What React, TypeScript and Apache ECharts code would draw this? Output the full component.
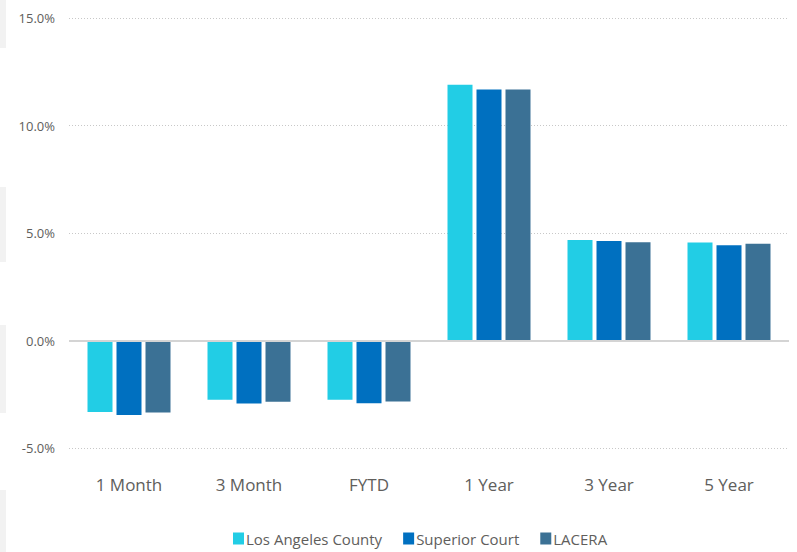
import React, { useEffect, useRef } from "react";
import * as echarts from "echarts";

const categories = ["1 Month", "3 Month", "FYTD", "1 Year", "3 Year", "5 Year"];
const seriesNames = ["Los Angeles County", "Superior Court", "LACERA"];
const losAngelesCounty = [-3.33, -2.76, -2.76, 11.9, 4.68, 4.56];
const superiorCourt = [-3.46, -2.93, -2.92, 11.67, 4.63, 4.43];
const lacera = [-3.35, -2.85, -2.84, 11.67, 4.57, 4.5];
const colors = ["#22CDE5", "#0070C0", "#3B7195"];
const yTicks = { min: -5, max: 15, interval: 5 };

const FONT = "'Open Sans', 'Noto Sans', sans-serif";

export default function App() {
  const ref = useRef<HTMLDivElement>(null);

  useEffect(() => {
    if (!ref.current) return;
    const chart = echarts.init(ref.current, undefined, { renderer: "svg" });
    const data = [losAngelesCounty, superiorCourt, lacera];
    chart.setOption({
      animation: false,
      backgroundColor: "#ffffff",
      textStyle: { fontFamily: FONT },
      grid: { left: 69, right: 8, top: 18, bottom: 104, containLabel: false },
      legend: {
        bottom: 1,
        left: 228,
        itemWidth: 11,
        itemHeight: 12,
        itemGap: 21,
        icon: "rect",
        textStyle: { fontSize: 15, color: "#605E5C", fontFamily: FONT, padding: [0, 0, 0, -3] },
        data: seriesNames,
      },
      xAxis: {
        type: "category",
        data: categories,
        axisLine: { show: false },
        axisTick: { show: false },
        axisLabel: { fontSize: 17, color: "#605E5C", margin: 28, fontFamily: FONT },
      },
      yAxis: {
        type: "value",
        min: yTicks.min,
        max: yTicks.max,
        interval: yTicks.interval,
        axisLine: { show: false },
        axisTick: { show: false },
        axisLabel: {
          fontSize: 13,
          color: "#605E5C",
          margin: 14,
          fontFamily: FONT,
          formatter: (v: number) => v.toFixed(1) + "%",
        },
        splitLine: { lineStyle: { color: "#c8c8c8", type: [1, 2], width: 1 } },
      },
      series: seriesNames.map((name, i) => ({
        name,
        type: "bar",
        data: data[i],
        barWidth: 25,
        barGap: "16%",
        itemStyle: { color: colors[i] },
        markLine:
          i === 0
            ? {
                silent: true,
                symbol: "none",
                label: { show: false },
                lineStyle: { color: "#d4d4d4", type: "solid", width: 2 },
                data: [{ yAxis: 0 }],
              }
            : undefined,
      })),
      graphic: [
        { type: "rect", left: 0, top: 0, shape: { width: 6, height: 48 }, style: { fill: "#f2f2f2" } },
        { type: "rect", left: 0, top: 187, shape: { width: 6, height: 75 }, style: { fill: "#f2f2f2" } },
        { type: "rect", left: 0, top: 325, shape: { width: 6, height: 88 }, style: { fill: "#f2f2f2" } },
        { type: "rect", left: 0, top: 490, shape: { width: 6, height: 62 }, style: { fill: "#f2f2f2" } },
      ],
    });
    return () => chart.dispose();
  }, []);

  return <div ref={ref} style={{ width: 797, height: 552, position: "absolute", left: 0, top: 0 }} />;
}
